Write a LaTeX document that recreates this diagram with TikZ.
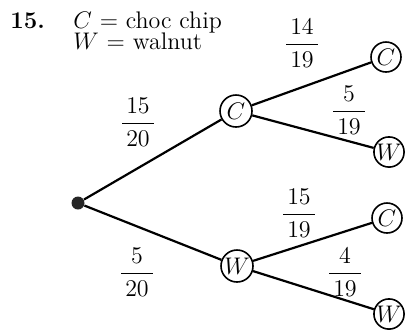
\documentclass[tikz,border=0pt,12pt]{standalone}
\usepackage{amsmath}
\usepackage{tikz}
\tikzset{
  pnode/.style={draw, circle, line width=0.8pt, minimum size=16pt, inner sep=0pt},
  branch/.style={draw, line width=1.1pt}
}
\newcommand{\pr}[2]{$\dfrac{\,#1\,}{\,#2\,}$}

\begin{document}
\begin{tikzpicture}[x=0.5pt, y=-0.5pt,
  prob/.style={inner sep=0pt},
  keyl/.style={anchor=base west, inner sep=0pt}]
\useasboundingbox (0,0) rectangle (410,329);
% key
\node[keyl] (num) at (10,28) {\textbf{15.}};
\node[keyl] (keyc) at (73,28) {$C$ = choc chip};
\node[keyl] (keyw) at (73,49) {$W$ = walnut};
% tree
\node[circle, fill=black!85, inner sep=0pt, minimum size=6.5pt] (root) at (78,203) {};
\node[pnode] (c) at (236,111) {$C$};
\node[pnode] (w) at (237,266) {$W$};
\node[pnode, minimum size=15pt] (cc) at (386,57) {$C$};
\node[pnode, minimum size=15pt] (cw) at (389,152) {$W$};
\node[pnode, minimum size=15pt] (wc) at (387,218) {$C$};
\node[pnode, minimum size=15pt] (ww) at (389,314) {$W$};
\draw[branch] (root) -- (c);
\draw[branch] (root) -- (w);
\draw[branch] (c) -- (cc);
\draw[branch] (c) -- (cw);
\draw[branch] (w) -- (wc);
\draw[branch] (w) -- (ww);
% probabilities
\node[prob] (p1) at (138,122) {\pr{15}{20}};
\node[prob] (p2) at (137,272) {\pr{5}{20}};
\node[prob] (p3) at (302,43) {\pr{14}{19}};
\node[prob] (p4) at (349,110) {\pr{5}{19}};
\node[prob] (p5) at (299,213) {\pr{15}{19}};
\node[prob] (p6) at (345,272) {\pr{4}{19}};
\end{tikzpicture}
\end{document}
